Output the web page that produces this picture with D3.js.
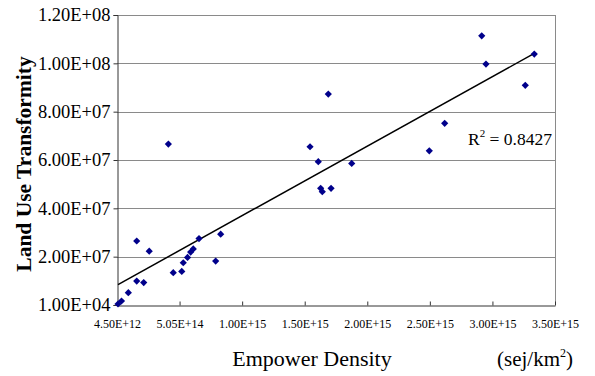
<!DOCTYPE html>
<html>
<head>
<meta charset="utf-8">
<script src="https://cdn.jsdelivr.net/npm/d3@7"></script>
<style>
	body { margin: 0; background: #fff; }
	text { font-family: "Liberation Serif", "Times New Roman", serif; fill: #000; }
</style>
</head>
<body>
<svg id="chart"></svg>
<script>
// empower density (sej/km2) of each site
var empower = [1.25e13, 4.05e13, 9.5e13, 1.62e14, 2.18e14, 1.62e14, 2.62e14, 4.15e14,
	4.54e14, 5.22e14, 5.34e14, 5.68e14, 5.93e14, 6.14e14, 6.6e14, 7.93e14, 8.33e14,
	1.547e15, 1.613e15, 1.632e15, 1.645e15, 1.715e15, 1.693e15, 1.88e15,
	2.50e15, 2.623e15, 2.919e15, 2.953e15, 3.267e15, 3.339e15];
// land use transformity of each site
var transformity = [4.2e5, 1.66e6, 5.1e6, 9.9e6, 9.3e6, 2.65e7, 2.23e7, 6.66e7,
	1.34e7, 1.39e7, 1.75e7, 1.97e7, 2.19e7, 2.32e7, 2.75e7, 1.82e7, 2.93e7,
	6.55e7, 5.93e7, 4.83e7, 4.69e7, 4.83e7, 8.73e7, 5.86e7,
	6.38e7, 7.52e7, 1.114e8, 9.97e7, 9.09e7, 1.0386e8];

var xTicks = [4.5e12, 5.045e14, 1.0045e15, 1.5045e15, 2.0045e15, 2.5045e15, 3.0045e15, 3.5045e15];
var xTickLabels = ['4.50E+12', '5.05E+14', '1.00E+15', '1.50E+15', '2.00E+15', '2.50E+15', '3.00E+15', '3.50E+15'];
var yTicks = [1e4, 2.001e7, 4.001e7, 6.001e7, 8.001e7, 1.0001e8, 1.2001e8];
var yTickLabels = ['1.00E+04', '2.00E+07', '4.00E+07', '6.00E+07', '8.00E+07', '1.00E+08', '1.20E+08'];
var rSquared = '0.8427';

var width = 595, height = 376;
var plotLeft = 117, plotRight = 555, plotTop = 15, plotBottom = 305;

var svg = d3.select('#chart')
	.attr('width', width)
	.attr('height', height);

var x = d3.scaleLinear().domain([xTicks[0], xTicks[xTicks.length - 1]]).range([plotLeft, plotRight]);
var y = d3.scaleLinear().domain([yTicks[0], yTicks[yTicks.length - 1]]).range([plotBottom, plotTop]);

//gridlines
svg.append('g')
	.selectAll('line')
	.data(yTicks.slice(1))
	.enter()
	.append('line')
	.attr('x1', plotLeft)
	.attr('x2', plotRight)
	.attr('y1', function(d) { return Math.round(y(d)) + 0.5; })
	.attr('y2', function(d) { return Math.round(y(d)) + 0.5; })
	.attr('stroke', '#8a8a8a')
	.attr('stroke-width', 1);

//right border
svg.append('line')
	.attr('x1', plotRight + 0.5).attr('x2', plotRight + 0.5)
	.attr('y1', plotTop).attr('y2', plotBottom)
	.attr('stroke', '#8a8a8a');

//axes
var xAxis = d3.axisBottom(x)
	.tickValues(xTicks)
	.tickFormat(function(d, i) { return xTickLabels[i]; })
	.tickSizeInner(-4)
	.tickSizeOuter(0)
	.tickPadding(14);

var gx = svg.append('g')
	.attr('transform', 'translate(0,' + (plotBottom + 0.5) + ')')
	.call(xAxis);
gx.select('.domain').attr('stroke', '#333');
gx.selectAll('line').attr('stroke', '#333');
gx.selectAll('text')
	.style('font-family', '"Liberation Serif", serif')
	.style('font-size', '12px')
	.attr('fill', '#222');

var yAxis = d3.axisLeft(y)
	.tickValues(yTicks)
	.tickFormat(function(d, i) { return yTickLabels[i]; })
	.tickSize(4)
	.tickPadding(3);

var gy = svg.append('g')
	.attr('transform', 'translate(' + (plotLeft + 0.5) + ',0)')
	.call(yAxis);
gy.select('.domain').attr('stroke', '#333');
gy.selectAll('line').attr('stroke', '#333');
gy.selectAll('text')
	.style('font-family', '"Liberation Serif", serif')
	.style('font-size', '18.5px')
	.attr('fill', '#222');

//least squares trend line
var n = empower.length;
var mx = d3.mean(empower), my = d3.mean(transformity);
var sxy = 0, sxx = 0;
for(var i = 0; i < n; i++)
{
	sxy += (empower[i] - mx) * (transformity[i] - my);
	sxx += (empower[i] - mx) * (empower[i] - mx);
}
var slope = sxy / sxx;
var intercept = my - slope * mx;
var x0 = d3.min(empower), x1 = d3.max(empower);

svg.append('line')
	.attr('x1', x(x0))
	.attr('y1', y(intercept + slope * x0))
	.attr('x2', x(x1))
	.attr('y2', y(intercept + slope * x1))
	.attr('stroke', '#000')
	.attr('stroke-width', 1.5);

//points
svg.append('g')
	.selectAll('path')
	.data(empower)
	.enter()
	.append('path')
	.attr('d', d3.symbol().type(d3.symbolSquare).size(26))
	.attr('transform', function(d, i)
	{
		return 'translate(' + x(d) + ',' + y(transformity[i]) + ') rotate(45)';
	})
	.attr('fill', '#00008b');

//r squared label
var r2 = svg.append('text')
	.attr('x', 468)
	.attr('y', 145)
	.style('font-size', '17.5px');
r2.append('tspan').text('R');
r2.append('tspan').attr('dy', -8).style('font-size', '11px').text('2');
r2.append('tspan').attr('dy', 8).text(' = ' + rSquared);

//axis titles
svg.append('text')
	.attr('transform', 'translate(31,164) rotate(-90)')
	.attr('text-anchor', 'middle')
	.style('font-size', '21.5px')
	.style('font-weight', 'bold')
	.text('Land Use Transformity');

svg.append('text')
	.attr('x', 312)
	.attr('y', 366)
	.attr('text-anchor', 'middle')
	.style('font-size', '22px')
	.text('Empower Density');

var unit = svg.append('text')
	.attr('x', 497)
	.attr('y', 366)
	.style('font-size', '21px');
unit.append('tspan').text('(sej/km');
unit.append('tspan').attr('dy', -9).style('font-size', '12px').text('2');
unit.append('tspan').attr('dy', 9).text(')');
</script>
</body>
</html>
